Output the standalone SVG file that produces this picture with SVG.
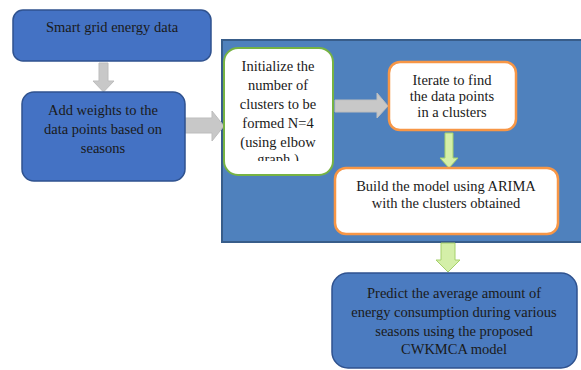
<svg xmlns="http://www.w3.org/2000/svg" width="581" height="370" viewBox="0 0 581 370">
<style>
.t text{font-size:14.5px;fill:#1a1a1a;text-anchor:middle}
.blue{fill:#4472C4;stroke:#2F528F;stroke-width:1.5}
.blue2{fill:#4B7BC0;stroke:#2F528F;stroke-width:1.5}
.panel{fill:#4F81BD;stroke:#385D8A;stroke-width:2}
.green{fill:#fff;stroke:#77B343;stroke-width:2}
.orange{fill:#fff;stroke:#F79646;stroke-width:2.5}
.garrow{fill:#C8C8C8;stroke:#BDBDBD;stroke-width:1}
.larrow{fill:#D4EFA8;stroke:#A5D06A;stroke-width:1}
</style>
<defs>
<clipPath id="c1"><rect x="224" y="48" width="110" height="113"/></clipPath>
</defs>
<rect width="581" height="370" fill="#fff"/>
<g id="panel"><rect class="panel" x="222" y="40" width="362" height="202"/></g>
<g id="connectors">
<polygon class="garrow" points="99,63 108,63 108,81 114,81 103.5,92 93,81 99,81"/>
<polygon class="garrow" points="185,118 212,118 212,111 224,126 212,141 212,133 185,133"/>
<polygon class="garrow" points="335,100 377,100 377,93 388,106 377,118 377,112 335,112"/>
<polygon class="larrow" points="445,133 453,133 453,158 458,158 449,168 440,158 445,158"/>
<polygon class="larrow" points="441,243 455,243 455,260 460,260 448,272 436,260 441,260"/>
</g>
<g class="t" font-family="Liberation Serif, Tinos, Times New Roman, serif">
<g id="n1"><rect class="blue" x="13" y="10" width="198" height="51" rx="10"/>
<text x="112" y="32">Smart grid energy data</text></g>
<g id="n2"><rect class="blue" x="22" y="92" width="163" height="89" rx="12"/>
<text x="103" y="115">Add weights to the</text><text x="103" y="134">data points based on</text><text x="103" y="153">seasons</text></g>
<g id="n3"><rect class="green" x="224" y="48" width="109" height="127" rx="14"/>
<g clip-path="url(#c1)"><text x="278" y="71">Initialize the</text><text x="278" y="90">number of</text><text x="278" y="109">clusters to be</text><text x="278" y="128">formed N=4</text><text x="278" y="147">(using elbow</text><text x="278" y="164">graph )</text></g></g>
<g id="n4"><rect class="orange" x="389" y="62" width="127" height="68" rx="11"/>
<text x="452" y="85">Iterate to find</text><text x="452" y="101">the data points</text><text x="452" y="117">in a clusters</text></g>
<g id="n5"><rect class="orange" x="335" y="168" width="223" height="66" rx="11"/>
<text x="446" y="191">Build the model using ARIMA</text><text x="446" y="208">with the clusters obtained</text></g>
<g id="n6"><rect class="blue2" x="332" y="273" width="245" height="95" rx="16"/>
<text x="454" y="298">Predict the average amount of</text><text x="454" y="317">energy consumption during various</text><text x="454" y="336">seasons using the proposed</text><text x="454" y="354">CWKMCA model</text></g>
</g>
</svg>
